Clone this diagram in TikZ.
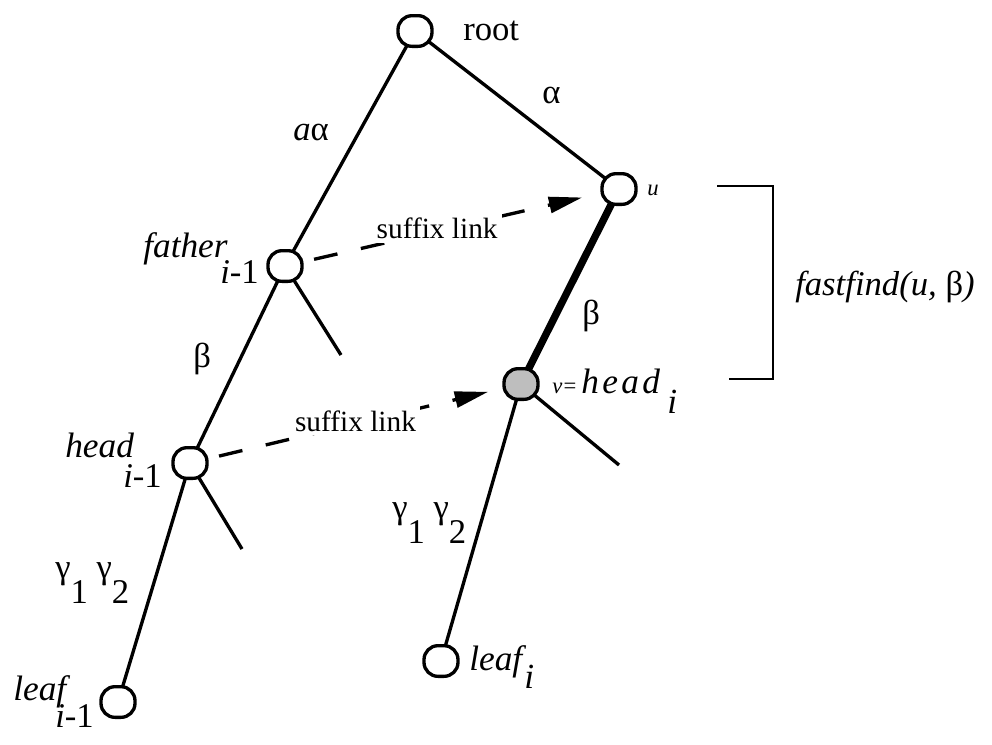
\documentclass[tikz,border=0pt]{standalone}
\usepackage{fontspec}
\setmainfont{Liberation Serif}
\usetikzlibrary{arrows.meta}
\pgfdeclarelayer{edges}
\pgfsetlayers{edges,main}
\begin{document}
\begin{tikzpicture}[x=0.75pt,y=-0.75pt,
  tnode/.style={draw, line width=2.5pt, fill=white, rounded corners=10.5pt,
    minimum width=25.5pt, minimum height=23pt, inner sep=0pt},
  treeedge/.style={line width=2.5pt},
  thickedge/.style={line width=5.5pt},
  slink/.style={line width=2.5pt, dash pattern=on 18pt off 18pt,
    -{Triangle[length=25pt,width=12pt]}},
  lbl/.style={inner sep=0pt, anchor=base west, font=\fontsize{26pt}{30pt}\selectfont},
  ilbl/.style={lbl, font=\fontsize{26.5pt}{30pt}\selectfont\itshape},
  smalllbl/.style={inner sep=0pt, anchor=base west, font=\fontsize{17pt}{20pt}\selectfont\itshape},
  slbl/.style={fill=white, inner sep=3pt, yshift=2pt, font=\fontsize{22pt}{25pt}\selectfont},
  bracketline/.style={line width=2.2pt}
]
\useasboundingbox (0,0) rectangle (992,744);
\begin{pgfonlayer}{edges}
  \fill[white] (0,0) rectangle (992,744);
\end{pgfonlayer}

% tree nodes
\node[tnode] (root) at (415,31) {};
\node[tnode] (u) at (619,189) {};
\node[tnode] (father) at (285,266) {};
\node[tnode, fill={rgb,255:red,190;green,190;blue,190}] (v) at (521,384) {};
\node[tnode] (headp) at (190,463) {};
\node[tnode] (leafp) at (118,702) {};
\node[tnode] (leafi) at (441,661) {};

% stub ends
\coordinate (fstub) at (341,355);
\coordinate (hstub) at (242,549);
\coordinate (vstub) at (619,465);

% edges
\begin{pgfonlayer}{edges}
  \draw[treeedge] (root.center) -- (father.center);
  \draw[treeedge] (root.center) -- (u.center);
  \draw[treeedge] (father.center) -- (headp.center);
  \draw[treeedge] (father.center) -- (fstub);
  \draw[treeedge] (headp.center) -- (leafp.center);
  \draw[treeedge] (headp.center) -- (hstub);
  \draw[thickedge] (u.center) -- (v.center);
  \draw[treeedge] (v.center) -- (leafi.center);
  \draw[treeedge] (v.center) -- (vstub);
\end{pgfonlayer}

% suffix links
\draw[slink, shorten <=8pt, shorten >=14pt] (father) -- node[slbl, pos=0.45] (sl1) {suffix link} (u);
\draw[slink, shorten <=8pt, shorten >=11pt] (headp) -- node[slbl, pos=0.5] (sl2) {suffix link} (v);

% bracket
\coordinate (b1) at (717,186);
\coordinate (b2) at (773,186);
\coordinate (b3) at (773,379);
\coordinate (b4) at (729,379);
\draw[bracketline] (b1) -- (b2) -- (b3) -- (b4);

% labels
\node[lbl] (lroot) at (463,40) {root};
\node[lbl] (laa) at (293,140) {\textit{a}α};
\node[lbl] (la) at (542,103) {α};
\node[ilbl] (lfather) at (143,257) {father};
\node[lbl] (lfathers) at (220,283) {\textit{i}-1};
\node[lbl] (lb1) at (193,367) {β};
\node[lbl] (lb2) at (582,324) {β};
\node[ilbl] (lhead) at (65,457) {head};
\node[lbl] (lheads) at (123,487) {\textit{i}-1};
\node[lbl] (lg1) at (55,578) {γ\raisebox{-18.75pt}{1} γ\raisebox{-18.75pt}{2}};
\node[lbl] (lg2) at (392,518) {γ\raisebox{-18.75pt}{1} γ\raisebox{-18.75pt}{2}};
\node[ilbl] (lleafp) at (13,700) {leaf};
\node[lbl] (lleafps) at (55,727) {\textit{i}-1};
\node[ilbl] (lleafi) at (469,670) {leaf};
\node[ilbl] (lleafis) at (524,688) {i};
\node[smalllbl] (lv) at (552,393) {v\kern1pt\upshape=};
\node[ilbl] (lheadi) at (581,393) {h\kern2.5pt e\kern2.5pt a\kern2.5pt d};
\node[ilbl] (lheadis) at (667,413) {i};
\node[smalllbl] (lu) at (647,195) {u};
\node[lbl] (lff) at (795,295) {\textit{fastfind(u,} β\textit{)}};
\end{tikzpicture}
\end{document}
